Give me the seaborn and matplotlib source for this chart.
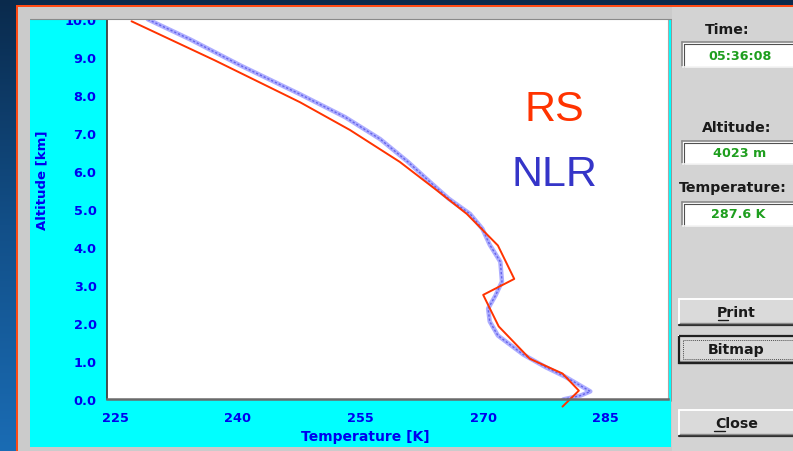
import numpy as np
import matplotlib
matplotlib.use("Agg")
import matplotlib.pyplot as plt
from matplotlib.patches import Rectangle
from matplotlib.colors import LinearSegmentedColormap
import seaborn as sns

# ---------------- data ----------------
rs_temp = [227.0, 237.2, 247.6, 253.7, 259.8, 264.1, 268.0, 271.8, 273.8, 270.0, 271.9, 275.7, 279.7, 281.7, 279.7]
rs_alt = [9.94, 8.91, 7.81, 7.08, 6.24, 5.53, 4.87, 4.04, 3.16, 2.74, 1.91, 1.06, 0.67, 0.22, -0.20]

nlr_temp = [229.0, 234.2, 240.3, 247.6, 253.1, 257.4, 260.8, 263.5, 265.8, 268.4, 269.9, 270.8, 272.1, 272.3,
            271.5, 270.6, 270.8, 271.8, 274.9, 277.7, 280.0, 283.1, 281.9, 279.8]
nlr_alt = [9.99, 9.46, 8.78, 8.02, 7.42, 6.84, 6.24, 5.71, 5.27, 4.87, 4.48, 4.06, 3.61, 3.09,
           2.72, 2.38, 2.04, 1.67, 1.17, 0.83, 0.59, 0.20, 0.09, -0.01]

x_ticks = [225, 240, 255, 270, 285]
x_tick_labels = ["225", "240", "255", "270", "285"]
y_ticks = [0, 1, 2, 3, 4, 5, 6, 7, 8, 9, 10]
y_tick_labels = ["0.0", "1.0", "2.0", "3.0", "4.0", "5.0", "6.0", "7.0", "8.0", "9.0", "10.0"]

series_names = ["RS", "NLR"]
x_label = "Temperature [K]"
y_label = "Altitude [km]"

panel_labels = ["Time:", "Altitude:", "Temperature:"]
panel_values = ["05:36:08", "4023 m", "287.6 K"]
button_labels = ["Print", "Bitmap", "Close"]

# ---------------- style ----------------
sns.set_style("white")
plt.rcParams["font.family"] = ["DejaVu Sans"]

W, H = 793, 452
fig = plt.figure(figsize=(W / 100, H / 100), dpi=100)

# background canvas in pixel coordinates
bg = fig.add_axes([0, 0, 1, 1], zorder=-1)
bg.set_xlim(0, W)
bg.set_ylim(H, 0)
bg.axis("off")
cmap = LinearSegmentedColormap.from_list("bgblue", ["#0a2a4c", "#124f88", "#1a6cb4"])
grad = np.linspace(0, 1, 256).reshape(-1, 1)
bg.imshow(grad, extent=[0, W, H, 0], aspect="auto", cmap=cmap, zorder=0)

# orange window border
bg.add_patch(Rectangle((15.5, 5.5), W, H, facecolor="#ff4a14", edgecolor="none", zorder=1))
# grey window
bg.add_patch(Rectangle((17.5, 7.5), W, H, facecolor="#cbcbcb", edgecolor="none", zorder=2))
# right panel
bg.add_patch(Rectangle((672, 7.5), W - 672, H, facecolor="#d3d3d3", edgecolor="none", zorder=2))
bg.plot([671, 671], [18, 402], color="#8c8c8c", lw=1.2, zorder=3)
# cyan panel
bg.add_patch(Rectangle((30, 18), 641, 430, facecolor="#00ffff", edgecolor="none", zorder=3))


def sunken_box(x0, y0, x1, y1):
    bg.add_patch(Rectangle((x0, y0), x1 - x0, y1 - y0, facecolor="white", edgecolor="none", zorder=4))
    bg.plot([x0, x1], [y0, y0], color="#8a8a8a", lw=1.2, zorder=5)
    bg.plot([x0, x0], [y0, y1], color="#8a8a8a", lw=1.2, zorder=5)
    bg.plot([x0 + 1.5, x1], [y0 + 1.5, y0 + 1.5], color="#505050", lw=0.8, zorder=5)
    bg.plot([x0 + 1.5, x0 + 1.5], [y0 + 1.5, y1], color="#505050", lw=0.8, zorder=5)
    bg.plot([x0, x1], [y1, y1], color="#f4f4f4", lw=1.2, zorder=5)


def raised_button(x0, y0, x1, y1, focus=False):
    bg.add_patch(Rectangle((x0, y0), x1 - x0, y1 - y0, facecolor="#dadada", edgecolor="none", zorder=4))
    bg.plot([x0, x1], [y0, y0], color="#ffffff", lw=1.4, zorder=5)
    bg.plot([x0, x0], [y0, y1], color="#ffffff", lw=1.4, zorder=5)
    bg.plot([x0, x1], [y1, y1], color="#303030", lw=1.6, zorder=5)
    bg.plot([x0 + 1, x1], [y1 - 1.8, y1 - 1.8], color="#8a8a8a", lw=1.0, zorder=5)
    if focus:
        bg.add_patch(Rectangle((x0, y0), x1 - x0 + 10, y1 - y0, facecolor="none",
                               edgecolor="#202020", lw=1.6, zorder=6))
        bg.add_patch(Rectangle((x0 + 4, y0 + 4), x1 - x0, y1 - y0 - 8, facecolor="none",
                               edgecolor="#505050", lw=0.7, ls=(0, (1, 1)), zorder=6))


lab_font = dict(fontsize=10.2, fontweight="bold", color="#1a1a1a", zorder=7)
val_font = dict(fontsize=9.2, fontweight="bold", color="#1e9e1e", zorder=7, ha="center", va="center")

bg.text(727, 30, panel_labels[0], ha="center", va="center", **lab_font)
sunken_box(682, 43, 800, 68)
bg.text(740, 56, panel_values[0], **val_font)

bg.text(737, 128, panel_labels[1], ha="center", va="center", **lab_font)
sunken_box(682, 142, 800, 165)
bg.text(740, 154, panel_values[1], **val_font)

bg.text(679, 188, panel_labels[2], ha="left", va="center", **lab_font)
sunken_box(682, 203, 800, 227)
bg.text(738, 215, panel_values[2], **val_font)

raised_button(679, 300, 800, 326)
bg.text(736, 313, button_labels[0], ha="center", va="center", **lab_font)
bg.plot([718, 728], [321, 321], color="#1a1a1a", lw=1.0, zorder=7)

raised_button(679, 337, 800, 364, focus=True)
bg.text(736, 350, button_labels[1], ha="center", va="center", **lab_font)

raised_button(679, 411, 800, 437)
bg.text(737, 424, button_labels[2], ha="center", va="center", **lab_font)
bg.plot([714, 725], [432, 432], color="#1a1a1a", lw=1.0, zorder=7)

# axis labels (outside the plot area)
bg.text(365, 437, x_label, ha="center", va="center", fontsize=10, fontweight="bold",
        color="#0000ee", zorder=7)
bg.text(42, 180, y_label, ha="center", va="center", rotation=90, fontsize=9.5,
        fontweight="bold", color="#0000ee", zorder=7)

# ---------------- plot axes ----------------
left, right, top, bottom = 107, 668, 20, 400
ax = fig.add_axes([left / W, (H - bottom) / H, (right - left) / W, (bottom - top) / H], zorder=1)
ax.set_facecolor("white")

sns.lineplot(x=nlr_temp, y=nlr_alt, sort=False, estimator=None, color="#aeaeff", lw=3.2, ax=ax)
sns.lineplot(x=nlr_temp, y=nlr_alt, sort=False, estimator=None, color="#6464ea", lw=1.0,
             dashes=False, ax=ax)
ax.lines[-1].set_dashes((1.6, 1.4))
sns.lineplot(x=rs_temp, y=rs_alt, sort=False, estimator=None, color="#ff3300", lw=1.4, ax=ax)
ax.lines[-1].set_clip_on(False)

ax.set_xlim(224.0, 292.6)
ax.set_ylim(0, 10)
ax.set_xticks(x_ticks)
ax.set_xticklabels(x_tick_labels)
ax.set_yticks(y_ticks)
ax.set_yticklabels(y_tick_labels)
ax.set_xlabel("")
ax.set_ylabel("")

ax.tick_params(axis="both", direction="out", color="#2c5c50", width=1.2,
               labelcolor="#0000ee", labelsize=9.3)
ax.tick_params(axis="x", length=6, pad=3)
ax.tick_params(axis="y", length=6.5, pad=1)
for lbl in ax.get_xticklabels() + ax.get_yticklabels():
    lbl.set_fontweight("bold")

ax.spines["top"].set_visible(False)
ax.spines["right"].set_color("#a8a8a8")
ax.spines["right"].set_linewidth(0.8)
ax.spines["left"].set_color("#404040")
ax.spines["left"].set_linewidth(1.3)
ax.spines["bottom"].set_color("#6a6a6a")
ax.spines["bottom"].set_linewidth(1.8)
ax.grid(False)

ax.text(0.797, 0.763, series_names[0], transform=ax.transAxes, ha="center", va="center",
        fontsize=31, color="#ff3300", family="Liberation Sans")
ax.text(0.797, 0.592, series_names[1], transform=ax.transAxes, ha="center", va="center",
        fontsize=31, color="#3535c8", family="Liberation Sans")

# grey frame strip above the plot (covers the top of the "10.0" label)
top_strip = Rectangle((17.5, 7.5), 654, 12.0, facecolor="#cbcbcb", edgecolor="none",
                      transform=bg.transData, zorder=5)
fig.add_artist(top_strip)
fig.add_artist(plt.Line2D([30, 671], [19.5, 19.5], color="#8a8a8a", lw=0.8,
                          transform=bg.transData, zorder=5))

fig.savefig("out.png", dpi=100)
